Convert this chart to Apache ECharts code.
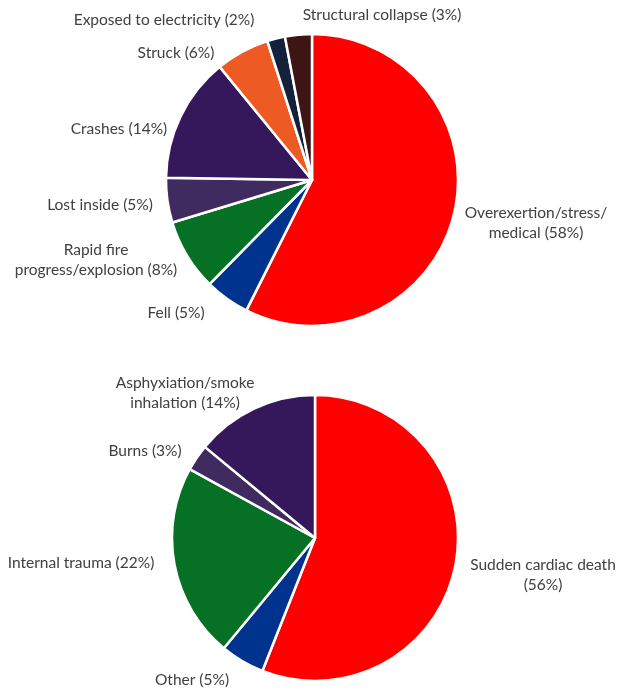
<!DOCTYPE html>
<html>
<head>
<meta charset="utf-8">
<script src="https://cdn.jsdelivr.net/npm/echarts@6/dist/echarts.min.js"></script>
<style>
  html, body { margin: 0; padding: 0; background: #fff; }
  #chart { width: 621px; height: 690px; }
</style>
</head>
<body>
<div id="chart"></div>
<script>
// Causes of line-of-duty deaths (top) and medical nature of fatal injury (bottom)
const causeNames = [
  'Overexertion/stress/\nmedical', 'Fell', 'Rapid fire\nprogress/explosion', 'Lost inside',
  'Crashes', 'Struck', 'Exposed to electricity', 'Structural collapse'
];
const causeValues = [58, 5, 8, 5, 14, 6, 2, 3];

const natureNames = [
  'Sudden cardiac death\n', 'Other', 'Internal trauma', 'Burns', 'Asphyxiation/smoke\ninhalation'
];
const natureValues = [56, 5, 22, 3, 14];

const causeColors = ['#ff0000', '#00338d', '#067024', '#3f2b5f', '#35175c', '#ee5a24', '#13213a', '#3d1515'];
const natureColors = ['#ff0000', '#00338d', '#067024', '#3f2b5f', '#35175c'];

// Where each label's text block is centred
const causeLabelAt = [[536, 223], [176, 313], [96, 260], [100, 205], [119, 129], [176, 53], [164, 20], [382, 15]];
const natureLabelAt = [[543, 575], [192, 680], [81, 563], [145, 451], [185, 393]];

const toData = (names, values, colors) => names.map((n, i) => ({
  name: n, value: values[i], itemStyle: { color: colors[i] }
}));

const labelStyle = {
  show: true,
  position: 'outside',
  formatter: p => `${p.name} (${p.value}%)`.replace('\n (', '\n('),
  fontFamily: 'Lato, "Open Sans", sans-serif',
  fontSize: 15.5,
  lineHeight: 20,
  color: '#404040',
  align: 'center'
};

const makePie = (data, center, radius, labelAt) => ({
  type: 'pie',
  center: center,
  radius: radius,
  startAngle: 90,
  clockwise: true,
  avoidLabelOverlap: false,
  animation: false,
  itemStyle: { borderColor: '#ffffff', borderWidth: 2.5 },
  label: labelStyle,
  labelLine: { show: false },
  emphasis: { disabled: true },
  labelLayout: p => ({
    x: labelAt[p.dataIndex][0],
    y: labelAt[p.dataIndex][1],
    align: 'center',
    verticalAlign: 'middle'
  }),
  data: data
});

const chart = echarts.init(document.getElementById('chart'), null, { renderer: 'canvas' });
chart.setOption({
  backgroundColor: '#ffffff',
  series: [
    makePie(toData(causeNames, causeValues, causeColors), [312, 180], 146, causeLabelAt),
    makePie(toData(natureNames, natureValues, natureColors), [315, 538], 143, natureLabelAt)
  ]
});
</script>
</body>
</html>
